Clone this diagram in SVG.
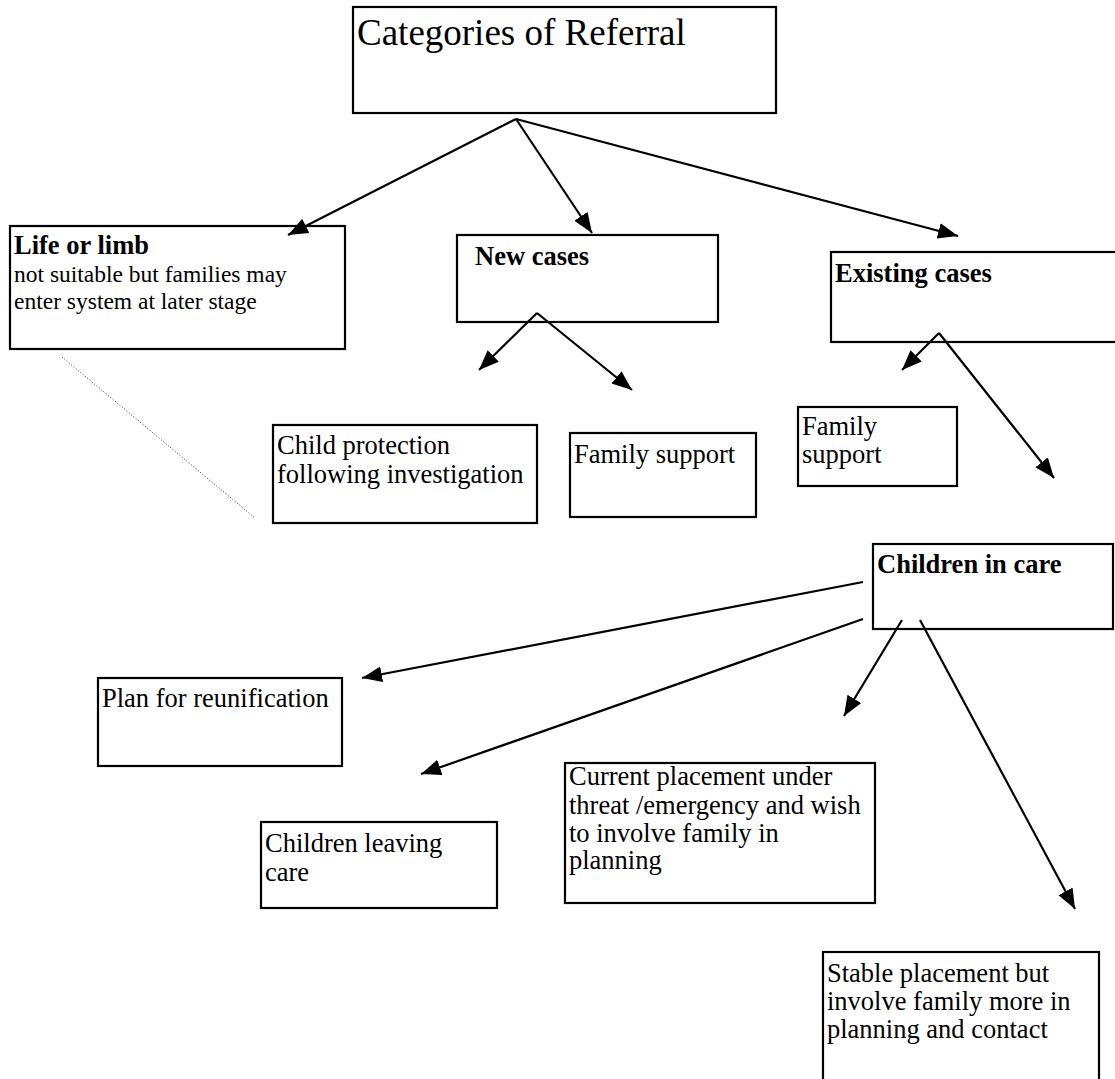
<svg xmlns="http://www.w3.org/2000/svg" width="1115" height="1079" viewBox="0 0 1115 1079">
<style>
.box{fill:#fff;stroke:#000;stroke-width:2.2}
.t{font-family:"Liberation Serif","Times New Roman",serif;font-size:26.5px;fill:#000}
.b{font-weight:bold}
.s{font-size:23.5px}
.h{font-size:37px}
.c{stroke:#000;stroke-width:2.2;fill:none;marker-end:url(#ah)}
</style>
<defs>
<marker id="ah" markerUnits="userSpaceOnUse" markerWidth="22" markerHeight="18" refX="20" refY="8" orient="auto">
<path d="M0,0 L20,8 L0,16 z" fill="#000"/>
</marker>
</defs>
<rect width="1115" height="1079" fill="#fff"/>
<g id="n-categories">
<rect class="box" x="353" y="7" width="423" height="106"/>
<text class="t h" x="357" y="45">Categories of Referral</text>
</g>
<g id="n-life">
<rect class="box" x="10" y="226" width="335" height="123"/>
<text class="t b" x="14" y="254">Life or limb</text>
<text class="t s" x="14" y="282">not suitable but families may</text>
<text class="t s" x="14" y="309">enter system at later stage</text>
</g>
<g id="n-new">
<rect class="box" x="457" y="235" width="261" height="87"/>
<text class="t b" x="475" y="265">New cases</text>
</g>
<g id="n-existing">
<rect class="box" x="831" y="252" width="290" height="90"/>
<text class="t b" x="835" y="282">Existing cases</text>
</g>
<g id="n-childprot">
<rect class="box" x="273" y="425" width="264" height="98"/>
<text class="t" x="277" y="454">Child protection</text>
<text class="t" x="277" y="483">following investigation</text>
</g>
<g id="n-famsup1">
<rect class="box" x="570" y="433" width="186" height="84"/>
<text class="t" x="574" y="463">Family support</text>
</g>
<g id="n-famsup2">
<rect class="box" x="798" y="407" width="159" height="79"/>
<text class="t" x="802" y="435">Family</text>
<text class="t" x="802" y="463">support</text>
</g>
<g id="n-care">
<rect class="box" x="873" y="544" width="240" height="85"/>
<text class="t b" x="877" y="573">Children in care</text>
</g>
<g id="n-reunif">
<rect class="box" x="98" y="678" width="244" height="88"/>
<text class="t" x="102" y="707">Plan for reunification</text>
</g>
<g id="n-leaving">
<rect class="box" x="261" y="822" width="236" height="86"/>
<text class="t" x="265" y="852">Children leaving</text>
<text class="t" x="265" y="881">care</text>
</g>
<g id="n-current">
<rect class="box" x="565" y="763" width="310" height="140"/>
<text class="t" x="569" y="785">Current placement under</text>
<text class="t" x="569" y="814">threat /emergency and wish</text>
<text class="t" x="569" y="842">to involve family in</text>
<text class="t" x="569" y="869">planning</text>
</g>
<g id="n-stable">
<rect class="box" x="823" y="952" width="276" height="140"/>
<text class="t" x="827" y="982">Stable placement but</text>
<text class="t" x="827" y="1010">involve family more in</text>
<text class="t" x="827" y="1038">planning and contact</text>
</g>
<g id="connectors">
<line class="c" x1="516" y1="119" x2="288" y2="235"/>
<line class="c" x1="516" y1="119" x2="592" y2="233"/>
<line class="c" x1="516" y1="119" x2="958" y2="236"/>
<line class="c" x1="537" y1="313" x2="479" y2="370"/>
<line class="c" x1="537" y1="313" x2="632" y2="390"/>
<line class="c" x1="939" y1="333" x2="902" y2="370"/>
<line class="c" x1="939" y1="333" x2="1054" y2="478"/>
<line class="c" x1="863" y1="582" x2="362" y2="678"/>
<line class="c" x1="863" y1="619" x2="421" y2="774"/>
<line class="c" x1="902" y1="620" x2="844" y2="716"/>
<line class="c" x1="920" y1="620" x2="1075" y2="909"/>
<line x1="62" y1="357" x2="255" y2="518" stroke="#333" stroke-width="1" stroke-dasharray="1,2"/>
</g>
</svg>
